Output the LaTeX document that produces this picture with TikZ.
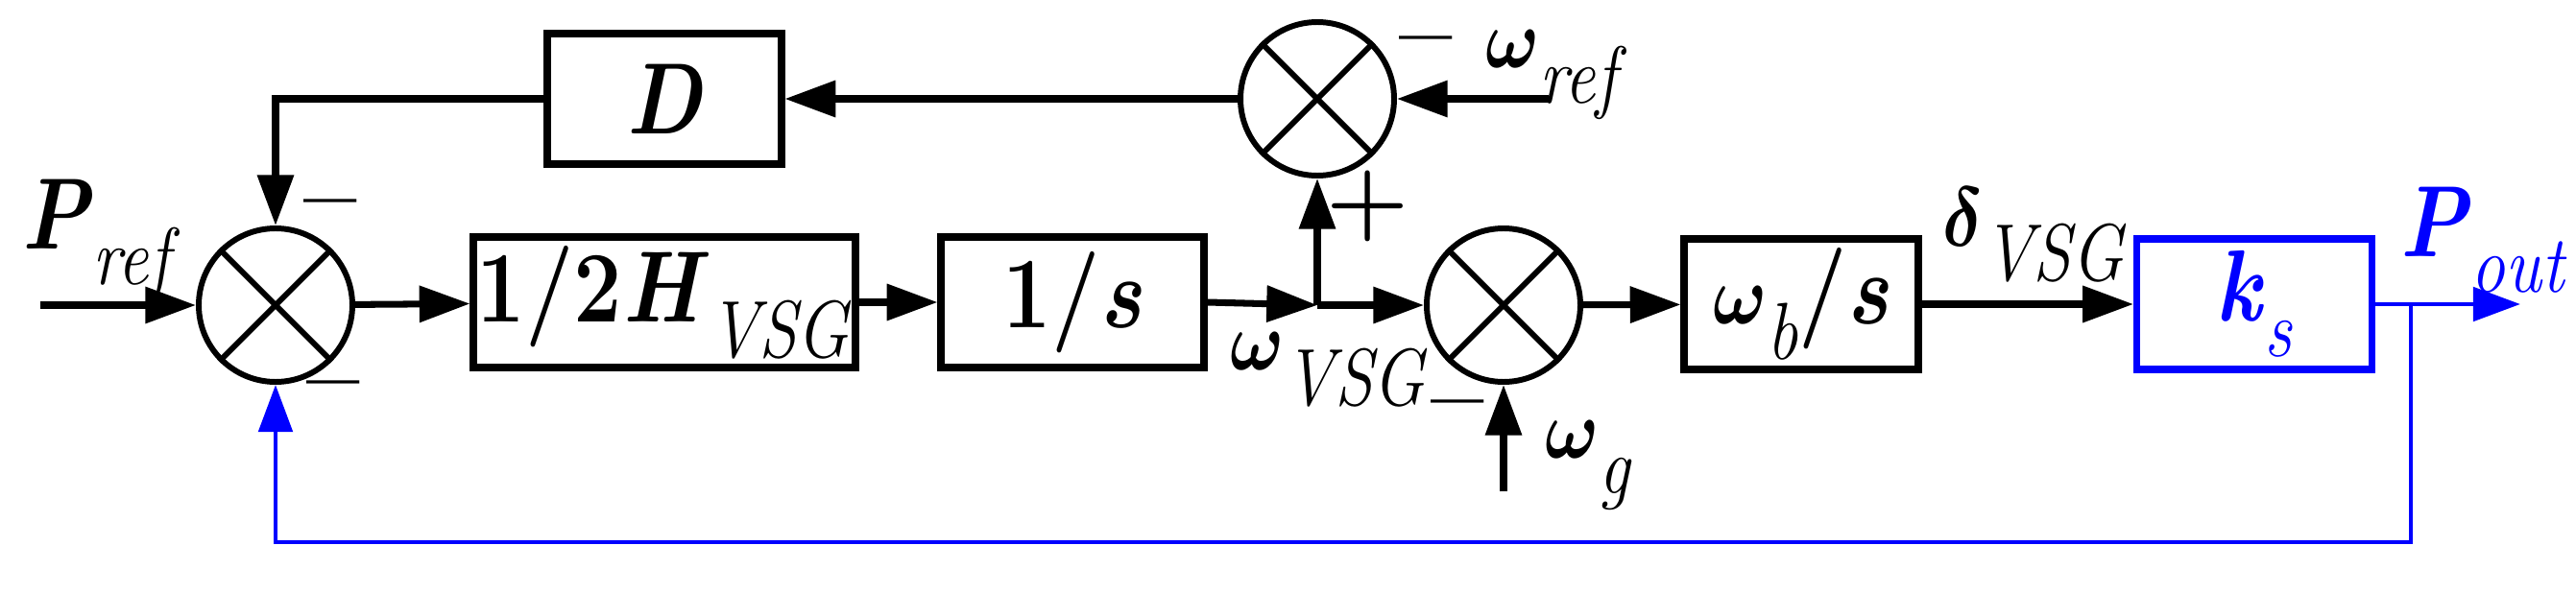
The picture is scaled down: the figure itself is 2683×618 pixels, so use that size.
\documentclass[tikz,border=0pt]{standalone}
\usetikzlibrary{arrows.meta}
\definecolor{fb}{RGB}{0,0,255}
\newcommand{\cnd}[1]{\scalebox{0.85}[1]{#1}}
\newcommand{\sbs}[1]{\raisebox{-0.35em}{\fontsize{24}{26}\selectfont\mdseries\textit{#1}}}
\newcommand{\bom}{{\boldmath$\omega$}}
\newcommand{\bdl}{{\boldmath$\delta$}}
\begin{document}
\begin{tikzpicture}[x=0.01cm,y=-0.01cm,
  ln/.style={line width=2pt,-{Triangle[length=15pt,width=10.5pt]}},
  bl/.style={line width=1.4pt,color=fb,-{Triangle[length=14pt,width=10pt]}},
  blk/.style={draw,line width=2pt,minimum height=136*0.01cm,inner sep=0pt},
  sumc/.style={draw,line width=1.7pt,circle,minimum size=160*0.01cm,inner sep=0pt},
  lab/.style={font=\fontsize{30}{32}\selectfont\bfseries,inner sep=0pt},
  sg/.style={font=\fontsize{28}{30}\selectfont\bfseries,inner sep=0pt}]
\useasboundingbox (0,0) rectangle (2683,618);
% sums
\node[sumc] (s1) at (287,318) {};
\node[sumc] (s2) at (1566,318) {};
\node[sumc] (s3) at (1372,103) {};
\foreach \s in {s1,s2,s3}{
  \draw[line width=1.7pt] (\s.north west) -- (\s.south east) (\s.north east) -- (\s.south west);}
% blocks
\node[blk,minimum width=398*0.01cm] (h) at (692,315) {};
\node[lab] at (h.center) {\cnd{1/2\textit{H}\sbs{VSG}}};
\node[blk,minimum width=274*0.01cm] (i) at (1117,315) {};
\node[lab] at (i.center) {\cnd{1/\textit{s}}};
\node[blk,minimum width=244*0.01cm] (d) at (692,103) {};
\node[lab] at (d.center) {\cnd{\textit{D}}};
\node[blk,minimum width=244*0.01cm] (w) at (1876,317) {};
\node[lab] at (w.center) {\cnd{\bom\sbs{b}/\textit{s}}};
\node[blk,draw=fb,minimum width=245*0.01cm] (k) at (2348,317) {};
\node[lab,text=fb] at (k.center) {\cnd{\textit{k}\sbs{s}}};
% coordinates
\coordinate (in) at (42,318);
\coordinate (j) at (1372,318);
\coordinate (wr) at (1613,103);
\coordinate (wg) at (1566,512);
\coordinate (out) at (2625,317);
\coordinate (tap) at (2511,317);
\coordinate (c1) at (2511,565);
\coordinate (c2) at (287,565);
\coordinate (c3) at (287,103);
% connections
\draw[ln] (in) -- (s1);
\draw[ln] (s1) -- (h);
\draw[ln] (h) -- (i);
\draw[ln] (i.east) -- (j);
\draw[ln] (j) -- (s2);
\draw[ln] (j) -- (s3);
\draw[ln] (wr) -- (s3);
\draw[ln] (s3) -- (d);
\draw[ln] (d.west) -- (c3) -- (s1);
\draw[ln] (wg) -- (s2);
\draw[ln] (s2) -- (w);
\draw[ln] (w) -- (k);
\draw[bl] (k) -- (out);
\draw[bl] (tap) -- (c1) -- (c2) -- (s1);
% labels
\node[lab,anchor=west] at (22,250) {\cnd{\textit{P}\sbs{ref}}};
\node[sg] at (344,222) {--};
\node[sg] at (347,411) {--};
\node[sg] at (1485,52) {--};
\node[sg] at (1425,215) {+};
\node[sg] at (1518,431) {--};
\node[lab,anchor=west] at (1547,78) {\cnd{\bom\sbs{ref}}};
\node[lab,anchor=west] at (1281,385) {\cnd{\bom\sbs{VSG}}};
\node[lab,anchor=west] at (1609,485) {\cnd{\bom\sbs{g}}};
\node[lab,anchor=west] at (2023,245) {\cnd{\bdl\sbs{VSG}}};
\node[lab,anchor=west,text=fb] at (2499,250) {\cnd{\textit{P}\sbs{out}}};
\end{tikzpicture}
\end{document}
